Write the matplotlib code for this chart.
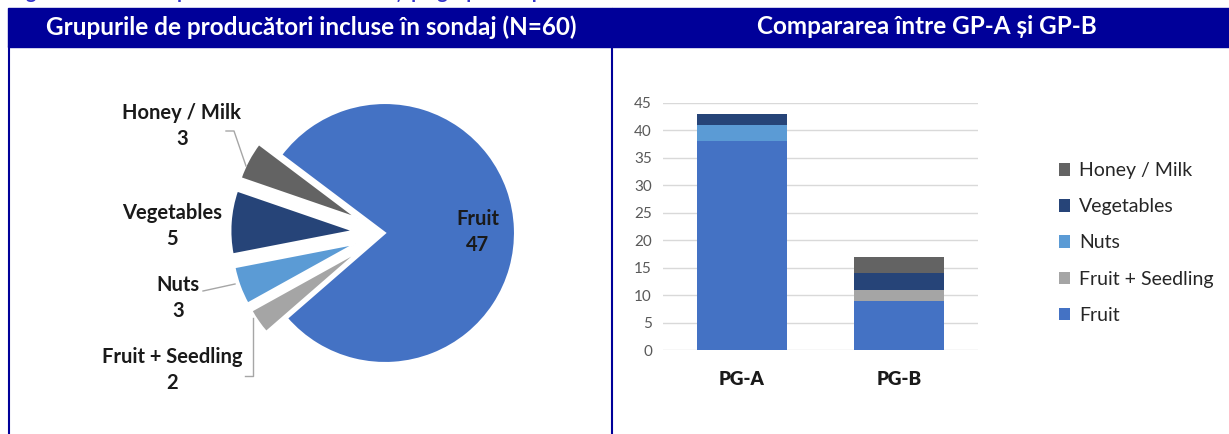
import matplotlib.pyplot as plt
import numpy as np

plt.rcParams['font.family'] = ['Lato', 'DejaVu Sans']

# date
pie_labels = ['Fruit', 'Honey / Milk', 'Vegetables', 'Nuts', 'Fruit + Seedling']
pie_values = [47, 3, 5, 3, 2]
pie_colors = ['#4472C4', '#636363', '#264478', '#5B9BD5', '#A5A5A5']

groups = ['PG-A', 'PG-B']
fruit = [38, 9]
seedling = [0, 2]
nuts = [3, 0]
vegetables = [2, 3]
honey = [0, 3]

W, H = 1229, 434
fig = plt.figure(figsize=(W / 100, H / 100), dpi=100)

def fx(px):
    return px / W

def fy(py):
    return 1 - py / H

navy = '#000099'

# titlu taiat sus
fig.text(fx(10), fy(-7), 'Figura 1. Structura producătorilor intervievați pe grupuri de producători',
         color='#3333CC', fontsize=14, fontweight='bold', ha='left', va='center')

# benzi antet
fig.patches.append(plt.Rectangle((fx(8), fy(47)), fx(612) - fx(8), fy(8) - fy(47),
                                 transform=fig.transFigure, color=navy, zorder=0))
fig.patches.append(plt.Rectangle((fx(612), fy(47)), fx(1229) - fx(612), fy(8) - fy(47),
                                 transform=fig.transFigure, color=navy, zorder=0))
fig.text(fx(311), fy(27), 'Grupurile de producători incluse în sondaj (N=60)', color='white',
         fontsize=17.5, fontweight='bold', ha='center', va='center')
fig.text(fx(927), fy(27), 'Compararea între GP-A și GP-B', color='white',
         fontsize=17.5, fontweight='bold', ha='center', va='center')
# linii verticale
fig.add_artist(plt.Line2D([fx(9), fx(9)], [fy(47), 0], color=navy, lw=1.5))
fig.add_artist(plt.Line2D([fx(612), fx(612)], [fy(47), 0], color=navy, lw=1.5))

# ---------------- pie
R = 130.0
cx, cy = 385, 233
ax1 = fig.add_axes([fx(20), fy(430), fx(600) - fx(20), fy(50) - fy(430)])

explode = [0, 0.24, 0.24, 0.24, 0.24]
wedges, _ = ax1.pie(pie_values, colors=pie_colors, startangle=221, counterclock=True,
                    explode=explode, radius=1,
                    wedgeprops=dict(edgecolor='white', linewidth=1.5))
for w in wedges[1:]:
    w.set_radius(0.95)
ax1.set_aspect('auto')
ax1.set_xlim(-(cx - 20) / R, (600 - cx) / R)
ax1.set_ylim(-(430 - cy) / R, (cy - 50) / R)
ax1.axis('off')

def d(px, py):
    return ((px - cx) / R, (cy - py) / R)

lab_pos = {'Fruit': (478, 232), 'Honey / Milk': (182, 126), 'Vegetables': (172, 226),
           'Nuts': (178, 298), 'Fruit + Seedling': (172, 370)}
for lab, val in zip(pie_labels, pie_values):
    x, y = d(*lab_pos[lab])
    ax1.text(x, y, f'{lab}\n{val}', ha='center', va='center', fontsize=14.5,
             fontweight='bold', color='#1a1a1a', linespacing=1.4)

lc = '#A6A6A6'
for pts in [[(226, 131), (234, 131), (246, 166)],
            [(203, 291), (235, 284)],
            [(253, 318), (253, 376), (245, 376)]]:
    xs, ys = zip(*[d(*p) for p in pts])
    ax1.plot(xs, ys, color=lc, lw=1)

# ---------------- bare
ax2 = fig.add_axes([fx(663), fy(350), fx(978) - fx(663), fy(103) - fy(350)])
x = np.arange(len(groups))
bw = 0.57
series = [('Fruit', fruit, '#4472C4'), ('Fruit + Seedling', seedling, '#A5A5A5'),
          ('Nuts', nuts, '#5B9BD5'), ('Vegetables', vegetables, '#264478'),
          ('Honey / Milk', honey, '#636363')]
bottom = np.zeros(len(groups))
handles = []
for name, vals, col in series:
    b = ax2.bar(x, vals, bw, bottom=bottom, color=col, label=name, zorder=3)
    handles.append(b)
    bottom += np.array(vals)

ax2.set_xlim(-0.5, 1.5)
ax2.set_ylim(0, 45)
ax2.set_yticks(range(0, 46, 5))
ax2.grid(axis='y', color='#D9D9D9', lw=1, zorder=0)
ax2.set_axisbelow(True)
for s in ax2.spines.values():
    s.set_visible(False)
ax2.tick_params(axis='both', length=0)
ax2.tick_params(axis='y', labelsize=11, labelcolor='#595959', pad=8)
ax2.set_xticks(x)
ax2.set_xticklabels(groups, fontsize=13.5, fontweight='heavy', color='#1a1a1a')
ax2.tick_params(axis='x', pad=15)

h = handles[::-1]
fig.legend(h, [hh.get_label() for hh in h], loc='center left',
           bbox_to_anchor=(fx(1041), fy(243)), frameon=False, fontsize=14,
           handlelength=0.6, handleheight=0.6, handletextpad=0.45,
           labelspacing=0.98, labelcolor='#262626')

fig.savefig('out.png', dpi=100)
